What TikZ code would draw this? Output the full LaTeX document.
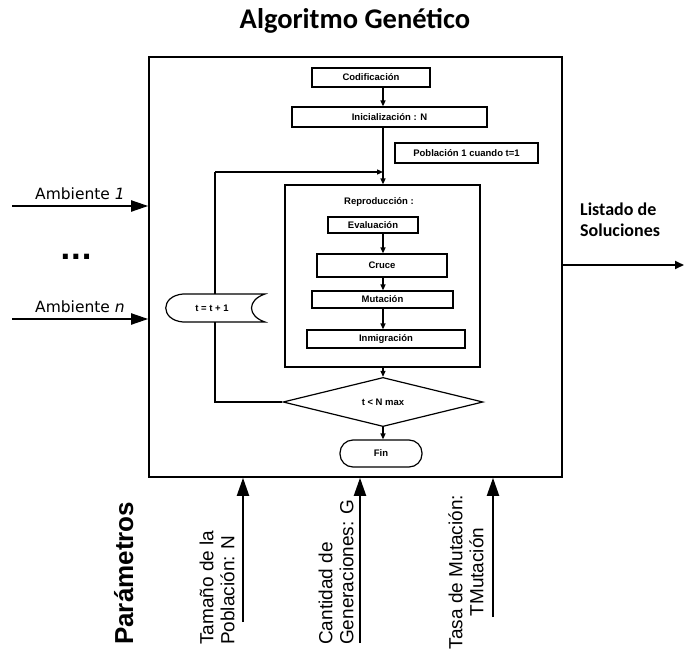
\documentclass[tikz,border=0pt]{standalone}
\usepackage{fontspec}
\setmainfont{Liberation Sans}
\newfontfamily\carlito{Carlito}
\newfontfamily\dejavu{DejaVu Sans}
\usetikzlibrary{arrows.meta,shapes.geometric,calc}

\tikzset{
  frame/.style={draw, line width=1.6pt, inner sep=0pt},
  smalltext/.style={font=\fontsize{9.5}{10}\selectfont\bfseries, inner sep=0pt},
  stepbox/.style={draw, line width=1.2pt, smalltext},
  flow/.style={line width=1.2pt},
  flowarr/.style={line width=1.2pt, -{Triangle[length=6pt,width=5pt]}},
  inarr/.style={line width=2pt, -{Triangle[length=17pt,width=11pt]}},
  uparr/.style={line width=2pt, -{Triangle[length=18pt,width=12pt]}},
  outarr/.style={line width=1.8pt, -{Triangle[length=9pt,width=8pt]}},
  sidelabel/.style={font=\dejavu\fontsize{15.5}{17}\selectfont, inner sep=0pt},
  paramlabel/.style={font=\fontsize{19}{21}\selectfont, inner sep=0pt, rotate=90},
}

\begin{document}
\begin{tikzpicture}[x=1pt, y=-1pt]
\useasboundingbox (0,0) rectangle (686,653);

% title
\node[font=\carlito\bfseries\fontsize{28.5}{30}\selectfont, anchor=base] (title) at (355,28) {Algoritmo Genético};

% outer block
\node[frame, minimum width=413pt, minimum height=420pt] (ga) at (355.5,267) {};

% main column
\coordinate (colx) at (383,0);
\node[stepbox, minimum width=118pt, minimum height=19pt] (cod) at (371,77.5) {Codificación};
\node[stepbox, minimum width=195pt, minimum height=20pt] (ini) at (389.5,117) {Inicialización : N};
\node[stepbox, minimum width=143pt, minimum height=20pt] (pob) at (466.5,153) {Población 1 cuando t=1};

% reproduction block
\node[draw, line width=1.2pt, minimum width=195pt, minimum height=182pt, inner sep=0pt] (rep) at (382.5,276) {};
\node[smalltext] (replab) at (379,202) {Reproducción :};
\node[stepbox, minimum width=90pt, minimum height=16pt] (eva) at (373,225) {Evaluación};
\node[stepbox, minimum width=130pt, minimum height=23pt] (cru) at (382,265.5) {Cruce};
\node[stepbox, minimum width=141pt, minimum height=17pt] (mut) at (382.5,299.5) {Mutación};
\node[stepbox, minimum width=158pt, minimum height=18pt] (inm) at (386,339) {Inmigración};

% decision and end
\node[stepbox, diamond, minimum width=200pt, minimum height=38pt] (dec) at (383,402) {t < N max};
\node[stepbox, rounded corners=13pt, minimum width=82pt, minimum height=27pt] (fin) at (381,453.5) {Fin};

% counter t = t + 1
\draw[line width=1.2pt] (183,294) -- (265,294)
   .. controls (247,300) and (247,316) .. (265,322) -- (183,322)
   .. controls (160,320) and (160,296) .. (183,294) -- cycle;
\node[smalltext] (cnt) at (212,308) {t = t + 1};
\coordinate (cntN) at (215,294);
\coordinate (cntS) at (215,322);
\coordinate (loopTop) at (215,172);
\coordinate (loopBot) at (215,402);

% connectors of the flow
\draw[flowarr] (cod.south -| colx) -- (ini.north -| colx);
\draw[flowarr] (ini.south -| colx) -- (rep.north -| colx);
\draw[flowarr] (loopTop) -- (loopTop -| colx);
\draw[flow] (cntN) -- (loopTop);
\draw[flow] (dec.west) -- (loopBot) -- (cntS);
\draw[flowarr] (eva.south -| colx) -- (cru.north -| colx);
\draw[flowarr] (cru.south -| colx) -- (mut.north -| colx);
\draw[flowarr] (mut.south -| colx) -- (inm.north -| colx);
\draw[flowarr] (rep.south -| colx) -- (dec.north);
\draw[flowarr] (dec.south) -- (fin.north -| dec.south);

% inputs: environments
\coordinate (a1) at (12,206);
\coordinate (an) at (12,319);
\draw[inarr] (a1) -- (a1 -| ga.west);
\draw[inarr] (an) -- (an -| ga.west);
\node[sidelabel, anchor=base west] (a1lab) at (35,199) {Ambiente \textit{1}};
\node[sidelabel, anchor=base west] (anlab) at (35,312) {Ambiente \textit{n}};
\node[font=\dejavu\bfseries\fontsize{28}{30}\selectfont, inner sep=0pt, anchor=base] (dots) at (76,259) {...};

% output
\coordinate (outEnd) at (684,265);
\draw[outarr] (outEnd -| ga.east) -- (outEnd);
\node[font=\carlito\bfseries\fontsize{18}{21}\selectfont, align=left, inner sep=0pt, anchor=base west] (outlab) at (580,236) {Listado de\\Soluciones};

% parameters
\coordinate (p1) at (243,622);
\coordinate (p2) at (360,643);
\coordinate (p3) at (493,617);
\draw[uparr] (p1) -- (p1 |- ga.south);
\draw[uparr] (p2) -- (p2 |- ga.south);
\draw[uparr] (p3) -- (p3 |- ga.south);
\node[font=\bfseries\fontsize{26}{28}\selectfont, inner sep=0pt, rotate=90, anchor=base west] (par) at (133,645) {Parámetros};
\node[paramlabel, anchor=west, align=left] (t1) at (217,645) {Tamaño de la\\Población: N};
\node[paramlabel, anchor=west, align=left] (t2) at (336,645) {Cantidad de\\Generaciones: G};
\node[paramlabel, anchor=center, align=center] (t3) at (466,572) {Tasa de Mutación:\\TMutación};
\end{tikzpicture}
\end{document}
